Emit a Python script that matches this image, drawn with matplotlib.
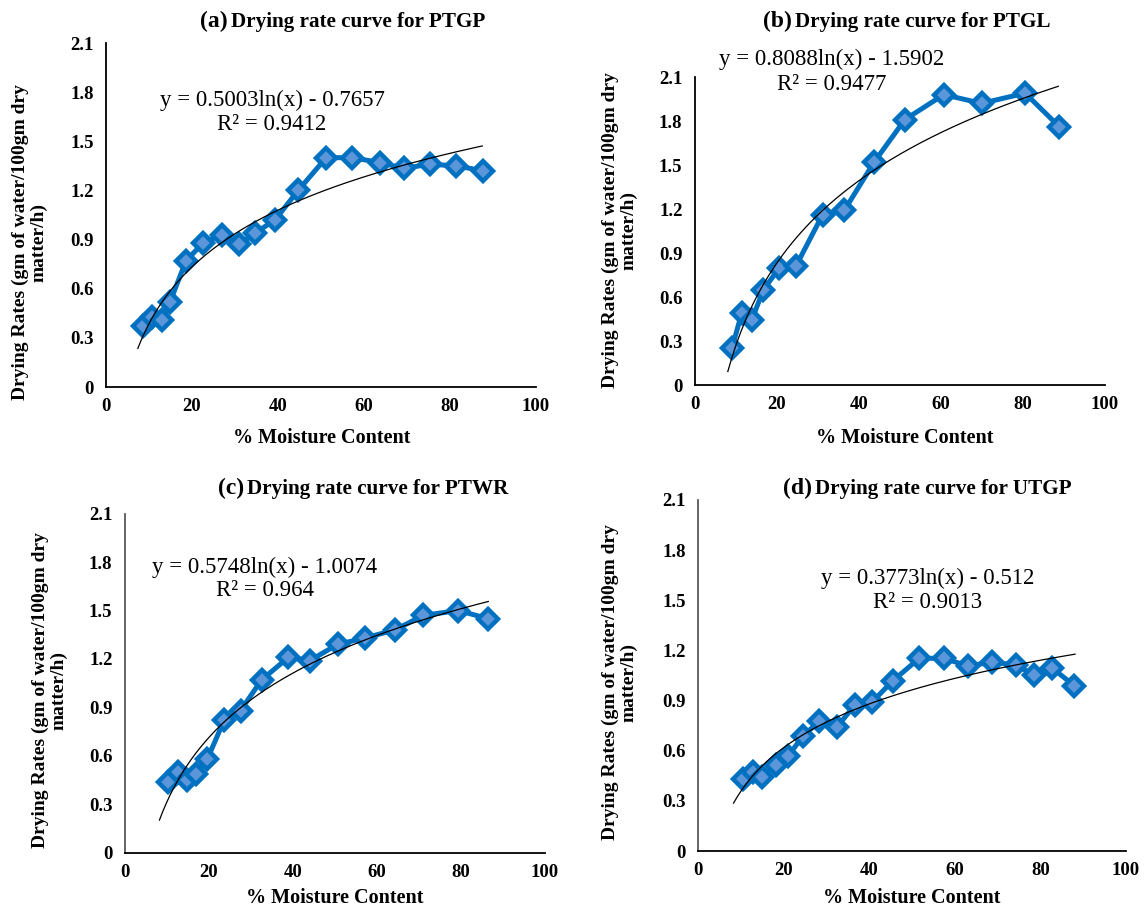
import numpy as np
import matplotlib
matplotlib.use("Agg")
import matplotlib.pyplot as plt

W, H = 1146, 910

# ---------------- data ----------------
mc_a = [8.7, 10.6, 13.0, 14.9, 18.6, 22.6, 26.9, 31.0, 34.7, 39.3, 44.7, 51.2, 57.3, 63.7, 69.3, 75.3, 81.4, 87.7]
dr_a = [0.37, 0.43, 0.41, 0.52, 0.77, 0.88, 0.93, 0.87, 0.94, 1.02, 1.20, 1.40, 1.40, 1.37, 1.335, 1.36, 1.35, 1.32]

mc_b = [9.0, 11.4, 13.8, 16.7, 20.6, 24.6, 31.1, 36.4, 43.7, 51.2, 60.7, 69.9, 80.5, 88.9]
dr_b = [0.25, 0.49, 0.44, 0.65, 0.80, 0.81, 1.16, 1.19, 1.52, 1.81, 1.98, 1.92, 1.99, 1.76]

mc_c = [10.2, 12.5, 14.8, 16.9, 19.6, 23.6, 27.5, 32.5, 38.9, 44.0, 50.6, 57.1, 64.3, 71.0, 79.4, 86.4]
dr_c = [0.44, 0.50, 0.45, 0.49, 0.58, 0.82, 0.88, 1.07, 1.21, 1.19, 1.29, 1.33, 1.38, 1.47, 1.50, 1.45]

mc_d = [10.4, 12.8, 14.9, 18.2, 21.1, 24.6, 28.3, 32.4, 36.7, 40.6, 45.6, 51.7, 57.5, 63.0, 68.8, 74.3, 78.5, 82.8, 87.9]
dr_d = [0.43, 0.47, 0.445, 0.515, 0.57, 0.69, 0.775, 0.74, 0.875, 0.89, 1.02, 1.153, 1.153, 1.107, 1.13, 1.113, 1.053, 1.093, 0.99]

# logarithmic trendline coefficients (y = a ln(x) + b) and drawn x-range
trend_a = (0.5003, -0.7657, 7.4, 87.5)
trend_b = (0.8088, -1.5902, 8.0, 88.6)
trend_c = (0.5748, -1.0074, 8.2, 86.5)
trend_d = (0.3773, -0.512, 8.3, 88.1)

eq_a = ("y = 0.5003ln(x) - 0.7657", "R² = 0.9412")
eq_b = ("y = 0.8088ln(x) - 1.5902", "R² = 0.9477")
eq_c = ("y = 0.5748ln(x) - 1.0074", "R² = 0.964")
eq_d = ("y = 0.3773ln(x) - 0.512", "R² = 0.9013")

titles_tag = ["(a)", "(b)", "(c)", "(d)"]
titles = ["Drying rate curve for PTGP", "Drying rate curve for PTGL",
          "Drying rate curve for PTWR", "Drying rate curve for UTGP"]

yticks = [0, 0.3, 0.6, 0.9, 1.2, 1.5, 1.8, 2.1]
yticklabels = ["0", "0.3", "0.6", "0.9", "1.2", "1.5", "1.8", "2.1"]
xticks = [0, 20, 40, 60, 80, 100]
xticklabels = ["0", "20", "40", "60", "80", "100"]

ylabel = "Drying Rates (gm of water/100gm dry\nmatter/h)"
xlabel = "% Moisture Content"

# ---------------- layout (pixels) ----------------
panels = [
    dict(mc=mc_a, dr=dr_a, tr=trend_a, eq=eq_a, box=(106, 536, 43, 387),
         title_x=231, title_y=22, eq_xy=(272, 100, 124), ylab=(30, 242), xlab=(322, 438), lsp='black'),
    dict(mc=mc_b, dr=dr_b, tr=trend_b, eq=eq_b, box=(695, 1105, 77, 385),
         title_x=795, title_y=22, eq_xy=(832, 59, 85), ylab=(620, 230), xlab=(905, 438), lsp='black'),
    dict(mc=mc_c, dr=dr_c, tr=trend_c, eq=eq_c, box=(125, 545, 513.7, 852.7),
         title_x=247, title_y=489, eq_xy=(265, 567, 590), ylab=(50, 690), xlab=(335, 898), lsp='#595959'),
    dict(mc=mc_d, dr=dr_d, tr=trend_d, eq=eq_d, box=(698, 1126, 500, 851),
         title_x=815, title_y=489, eq_xy=(928, 578, 603), ylab=(620, 682), xlab=(912, 898), lsp='#595959'),
]

SERIF = ["Liberation Serif", "DejaVu Serif"]
plt.rcParams['font.family'] = SERIF

fig = plt.figure(figsize=(W / 100, H / 100), dpi=100)

def fx(x):
    return x / W

def fy(y):
    return 1 - y / H

for i, p in enumerate(panels):
    l, r, t, b = p['box']
    ax = fig.add_axes([fx(l), fy(b), (r - l) / W, (b - t) / H])
    ax.set_xlim(0, 100)
    ax.set_ylim(0, 2.1)
    for s in ['top', 'right']:
        ax.spines[s].set_visible(False)
    ax.spines['left'].set_color(p['lsp'])
    ax.spines['left'].set_linewidth(1.3)
    ax.spines['bottom'].set_color('black')
    ax.spines['bottom'].set_linewidth(1.3)
    ax.set_yticks(yticks)
    ax.set_yticklabels(yticklabels, fontsize=13.5, fontweight='bold')
    ax.set_xticks(xticks)
    ax.set_xticklabels(xticklabels, fontsize=13.5, fontweight='bold')
    ax.tick_params(axis='both', length=0)
    ax.tick_params(axis='y', pad=9)
    ax.tick_params(axis='x', pad=8)
    ax.set_facecolor('none')

    ax.plot(p['mc'], p['dr'], color='#0070C0', lw=3.6, marker='D', markersize=10.5,
            markerfacecolor='#5B95DA', markeredgecolor='#0070C0', markeredgewidth=3.2,
            zorder=3, clip_on=False)
    a, c0, x0, x1 = p['tr']
    xs = np.linspace(x0, x1, 200)
    ax.plot(xs, a * np.log(xs) + c0, color='black', lw=0.9, zorder=4)

    ex, ey1, ey2 = p['eq_xy']
    fig.text(fx(ex), fy(ey1), p['eq'][0], ha='center', va='center', fontsize=16.5)
    fig.text(fx(ex), fy(ey2), p['eq'][1], ha='center', va='center', fontsize=16.5)

    fig.text(fx(p['title_x']), fy(p['title_y']), titles[i], ha='left', va='center',
             fontsize=15.2, fontweight='bold')
    fig.text(fx(p['title_x'] - 3), fy(p['title_y'] - 1), titles_tag[i], ha='right', va='center',
             fontsize=17, fontweight='bold')

    fig.text(fx(p['ylab'][0]), fy(p['ylab'][1]), ylabel, rotation=90, ha='center', va='center',
             fontsize=14, fontweight='bold', multialignment='center', linespacing=1.1)
    fig.text(fx(p['xlab'][0]), fy(p['xlab'][1]), xlabel, ha='center', va='center',
             fontsize=14.5, fontweight='bold')

fig.savefig("out.png", dpi=100)
